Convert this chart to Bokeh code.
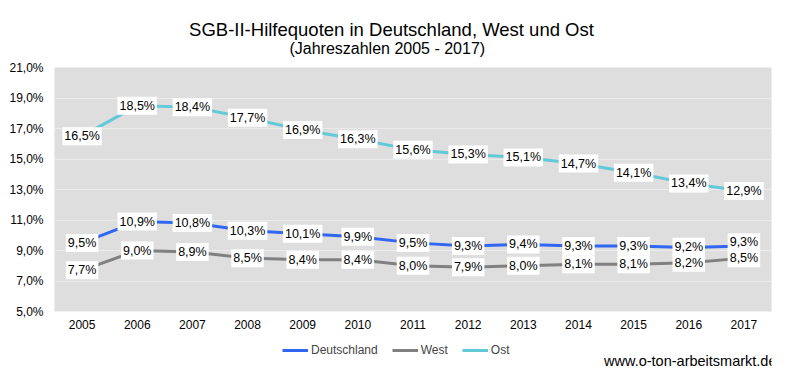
from bokeh.plotting import figure
from bokeh.layouts import column
from bokeh.models import (ColumnDataSource, Range1d, FactorRange, Legend, LegendItem,
                          FixedTicker, CustomJSTickFormatter)
from bokeh.core.properties import value
from bokeh.embed import file_html
from bokeh.resources import INLINE

years = [str(y) for y in range(2005, 2018)]
deutschland = [9.5, 10.9, 10.8, 10.3, 10.1, 9.9, 9.5, 9.3, 9.4, 9.3, 9.3, 9.2, 9.3]
west = [7.7, 9.0, 8.9, 8.5, 8.4, 8.4, 8.0, 7.9, 8.0, 8.1, 8.1, 8.2, 8.5]
ost = [16.5, 18.5, 18.4, 17.7, 16.9, 16.3, 15.6, 15.3, 15.1, 14.7, 14.1, 13.4, 12.9]
series_names = ["Deutschland", "West", "Ost"]
colors = ["#3166f2", "#808080", "#62c9d8"]
y_ticks = [5, 7, 9, 11, 13, 15, 17, 19, 21]

title_text = "SGB-II-Hilfequoten in Deutschland, West und Ost"
subtitle_text = "(Jahreszahlen  2005 - 2017)"
source_text = "www.o-ton-arbeitsmarkt.de"

FONT = "Liberation Sans"
W = 786
TOP_H, MAIN_H, BOT_H = 57, 279, 34
FL, FR, FT, FB = 54, 15, 10, 25  # frame borders of the main chart
FRAME_H = MAIN_H - FT - FB
Y0, Y1 = y_ticks[0], y_ticks[-1]
BOX_H = 16  # height of a data-label box, px


def blank(height):
    # frame is aligned with the main chart's frame; x data == page pixels
    f = figure(width=W, height=height, x_range=Range1d(FL, W - FR), y_range=Range1d(height, 0),
               output_backend="svg", toolbar_location=None,
               x_axis_location=None, y_axis_location=None,
               min_border_left=FL, min_border_right=FR, min_border_top=0, min_border_bottom=0,
               background_fill_color="white", border_fill_color="white")
    f.outline_line_color = None
    f.grid.visible = False
    f.title.visible = False
    return f


# ---- title area
top = blank(TOP_H)
top.text(x=[391], y=[29], text=[title_text], text_align="center", text_baseline="alphabetic",
         text_font=value(FONT), text_font_size="18.5px", text_color="black")
top.text(x=[389], y=[47.5], text=[subtitle_text], text_align="center", text_baseline="alphabetic",
         text_font=value(FONT), text_font_size="16px", text_color="black")

# ---- main chart
p = figure(width=W, height=MAIN_H, x_range=FactorRange(*years), y_range=Range1d(Y0, Y1),
           output_backend="svg", toolbar_location=None,
           min_border_left=FL, min_border_right=FR, min_border_top=FT, min_border_bottom=FB,
           background_fill_color="#dedede", border_fill_color="white")
p.outline_line_color = None
p.title.visible = False
p.xgrid.grid_line_color = None
p.ygrid.grid_line_color = "#ebebeb"
p.ygrid.grid_line_width = 1
p.yaxis.ticker = FixedTicker(ticks=y_ticks)
p.yaxis.formatter = CustomJSTickFormatter(code="return tick.toFixed(1).replace('.', ',') + '%';")
for ax in (p.xaxis, p.yaxis):
    ax.axis_line_color = None
    ax.major_tick_line_color = None
    ax.minor_tick_line_color = None
    ax.major_tick_out = 0
    ax.major_tick_in = 0
    ax.minor_tick_out = 0
    ax.minor_tick_in = 0
    ax.major_label_text_font = FONT
    ax.major_label_text_font_size = "12px"
    ax.major_label_text_color = "#000000"
p.yaxis.major_label_standoff = 11
p.xaxis.major_label_standoff = 8

# lift Deutschland labels where they would collide with the West labels
px_per_unit = FRAME_H / (Y1 - Y0)
lift = [-max(0.0, BOX_H - (d - w) * px_per_unit) for d, w in zip(deutschland, west)]
offsets = [lift, [0.0] * len(years), [0.0] * len(years)]

for name, vals, col, off in zip(series_names, [deutschland, west, ost], colors, offsets):
    src = ColumnDataSource(dict(x=years, y=vals, off=off,
                                t=[f"{v:.1f}".replace(".", ",") + "%" for v in vals]))
    p.line("x", "y", source=src, line_color=col, line_width=3)
    p.text(x="x", y="y", text="t", source=src, y_offset="off",
           text_align="center", text_baseline="middle",
           text_font=value(FONT), text_font_size="12.5px", text_color="black",
           background_fill_color="white", padding=2)

# ---- legend + source
bot = blank(BOT_H)
items = []
for name, col in zip(series_names, colors):
    r = bot.line(x=[-20, -10], y=[-20, -20], line_color=col, line_width=3)
    items.append(LegendItem(label=name, renderers=[r]))
legend = Legend(items=items, orientation="horizontal", location=(282 - FL, 10),
                background_fill_alpha=0, border_line_color=None,
                label_text_font=FONT, label_text_font_size="12px",
                glyph_width=26, glyph_height=12, label_height=20, spacing=14, padding=0, margin=0,
                label_standoff=3)
bot.add_layout(legend, "center")
bot.text(x=[W - FR], y=[24], text=[source_text], text_align="right", text_baseline="alphabetic",
         text_font=value(FONT), text_font_size="14.5px", text_color="black", x_offset=5)

layout = column(top, p, bot, spacing=0)
open("out.html", "w").write(file_html(layout, INLINE))
